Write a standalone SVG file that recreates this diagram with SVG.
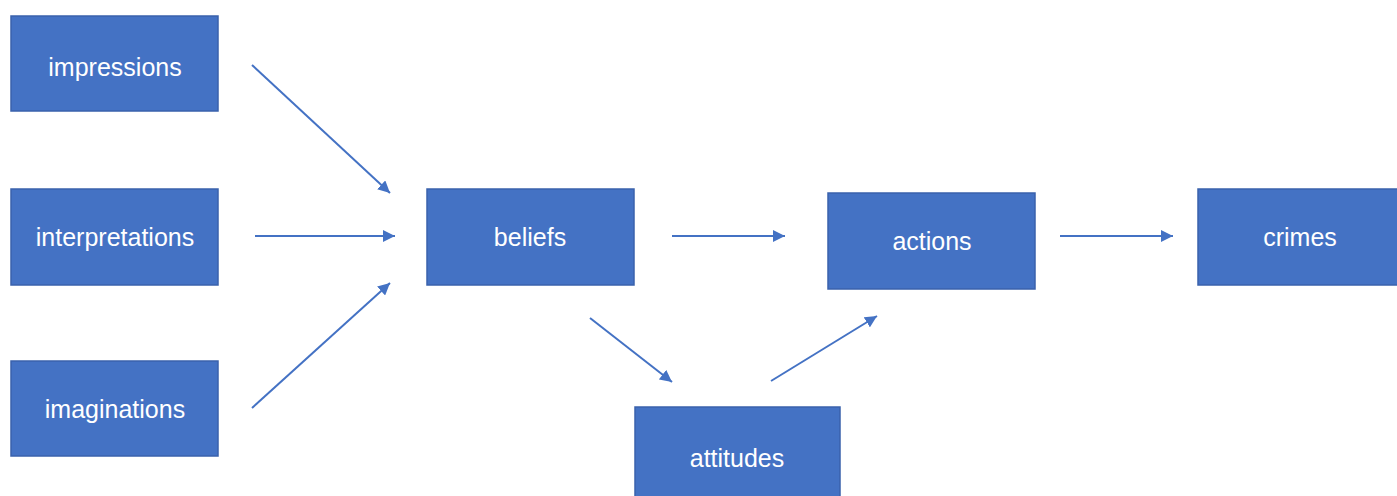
<svg xmlns="http://www.w3.org/2000/svg" width="1397" height="496" viewBox="0 0 1397 496">
<style>
.box{fill:#4472C4;stroke:#3A62AC;stroke-width:1.5}
.lbl{fill:#FFFFFF;font-family:"Liberation Sans",Arial,sans-serif;font-size:25px;text-anchor:middle}
.conn{stroke:#4472C4;stroke-width:2;fill:none;marker-end:url(#ah)}
</style>
<defs>
<marker id="ah" viewBox="0 0 10 10" refX="10" refY="5" markerWidth="6" markerHeight="6" orient="auto" markerUnits="strokeWidth">
<path d="M0,0 L10,5 L0,10 Z" fill="#4472C4"/>
</marker>
</defs>
<rect width="1397" height="496" fill="#FFFFFF"/>
<g id="connectors">
<line class="conn" x1="252" y1="65" x2="390" y2="193"/>
<line class="conn" x1="255" y1="236" x2="395" y2="236"/>
<line class="conn" x1="252" y1="408" x2="390" y2="283"/>
<line class="conn" x1="672" y1="236" x2="785" y2="236"/>
<line class="conn" x1="1060" y1="236" x2="1173" y2="236"/>
<line class="conn" x1="590" y1="318" x2="672" y2="382"/>
<line class="conn" x1="771" y1="381" x2="877" y2="316"/>
</g>
<g id="impressions"><rect class="box" x="11" y="16" width="207" height="95"/><text class="lbl" x="115" y="76">impressions</text></g>
<g id="interpretations"><rect class="box" x="11" y="189" width="207" height="96"/><text class="lbl" x="115" y="246">interpretations</text></g>
<g id="imaginations"><rect class="box" x="11" y="361" width="207" height="95"/><text class="lbl" x="115" y="418">imaginations</text></g>
<g id="beliefs"><rect class="box" x="427" y="189" width="207" height="96"/><text class="lbl" x="530" y="246">beliefs</text></g>
<g id="actions"><rect class="box" x="828" y="193" width="207" height="96"/><text class="lbl" x="932" y="250">actions</text></g>
<g id="crimes"><rect class="box" x="1198" y="189" width="205" height="96"/><text class="lbl" x="1300" y="246">crimes</text></g>
<g id="attitudes"><rect class="box" x="635" y="407" width="205" height="95"/><text class="lbl" x="737" y="467">attitudes</text></g>
</svg>
